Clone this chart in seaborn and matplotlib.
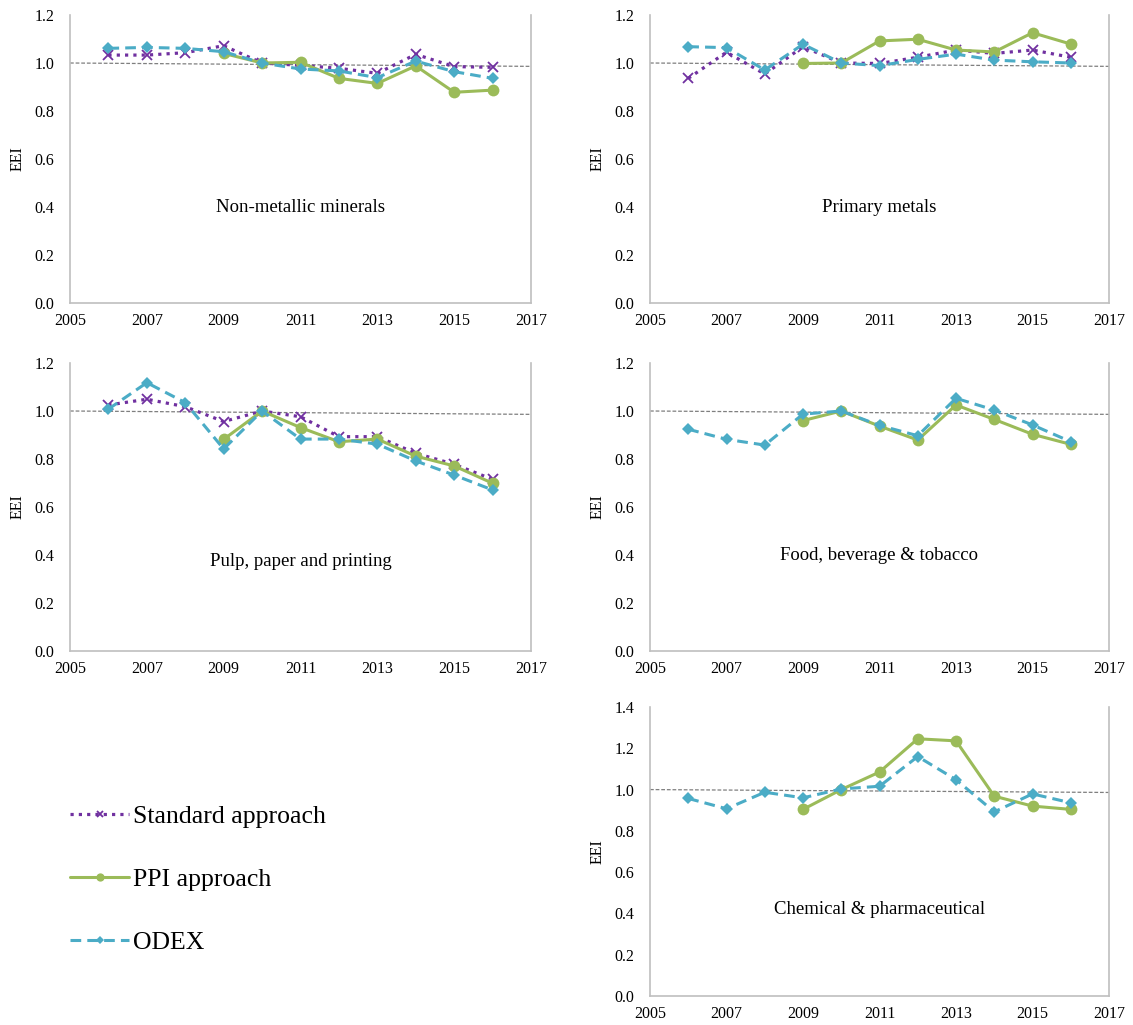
import numpy as np
import pandas as pd
import matplotlib
matplotlib.use("Agg")
import matplotlib.pyplot as plt
from matplotlib.lines import Line2D
import seaborn as sns

# ---- data -------------------------------------------------------------
years = [2006, 2007, 2008, 2009, 2010, 2011, 2012, 2013, 2014, 2015, 2016]
nan = np.nan

nonmet_std = [1.033, 1.033, 1.043, 1.072, 1.000, 0.990, 0.978, 0.957, 1.036, 0.985, 0.982]
nonmet_ppi = [nan, nan, nan, 1.040, 1.000, 1.003, 0.936, 0.915, 0.988, 0.878, 0.887]
nonmet_odex = [1.061, 1.065, 1.061, 1.047, 1.000, 0.975, 0.967, 0.939, 1.008, 0.964, 0.936]

metals_std = [0.936, 1.045, 0.954, 1.068, 1.000, 0.998, 1.024, 1.054, 1.040, 1.054, 1.024]
metals_ppi = [nan, nan, nan, 0.998, 1.000, 1.092, 1.099, 1.054, 1.046, 1.126, 1.079]
metals_odex = [1.068, 1.064, 0.971, 1.078, 1.000, 0.989, 1.015, 1.037, 1.012, 1.005, 1.000]

pulp_std = [1.025, 1.049, 1.018, 0.956, 1.000, 0.976, 0.893, 0.893, 0.824, 0.778, 0.715]
pulp_ppi = [nan, nan, nan, 0.882, 1.000, 0.931, 0.872, 0.883, 0.812, 0.771, 0.699]
pulp_odex = [1.008, 1.118, 1.035, 0.842, 1.000, 0.883, 0.883, 0.862, 0.792, 0.733, 0.671]

food_ppi = [nan, nan, nan, 0.960, 1.000, 0.937, 0.879, 1.025, 0.965, 0.903, 0.861]
food_odex = [0.924, 0.882, 0.858, 0.987, 1.000, 0.940, 0.897, 1.053, 1.004, 0.942, 0.872]

chem_ppi = [nan, nan, nan, 0.904, 1.000, 1.085, 1.246, 1.236, 0.968, 0.920, 0.904]
chem_odex = [0.957, 0.907, 0.987, 0.960, 1.003, 1.016, 1.160, 1.048, 0.892, 0.979, 0.936]

series_names = ["Standard approach", "PPI approach", "ODEX"]
panel_titles = ["Non-metallic minerals", "Primary metals", "Pulp, paper and printing",
                "Food, beverage & tobacco", "Chemical & pharmaceutical"]

# ---- styling ----------------------------------------------------------
sns.set_theme(style="white")
serif = ["Liberation Serif", "DejaVu Serif"]
plt.rcParams["font.family"] = serif
plt.rcParams["text.color"] = "black"
plt.rcParams["axes.labelcolor"] = "black"

styles = {
    "Standard approach": dict(color="#7030A0", linestyle=(0, (1, 1.6)), linewidth=2.3,
                              marker="x", markersize=7, markeredgewidth=1.3),
    "PPI approach": dict(color="#9BBB59", linestyle="-", linewidth=2.2,
                         marker="o", markersize=8.5, markeredgewidth=0),
    "ODEX": dict(color="#4BACC6", linestyle=(0, (3.5, 2)), linewidth=2.2,
                 marker="D", markersize=6.2, markeredgewidth=0),
}

W, H = 1133, 1025
fig = plt.figure(figsize=(W / 100, H / 100), dpi=100)


def add_axes(x0, x1, ytop, ybot):
    return fig.add_axes([x0 / W, (H - ybot) / H, (x1 - x0) / W, (ybot - ytop) / H])


panels = [
    (add_axes(70, 531, 15, 303), [nonmet_std, nonmet_ppi, nonmet_odex], 1.2, 0.33),
    (add_axes(650, 1109, 15, 303), [metals_std, metals_ppi, metals_odex], 1.2, 0.33),
    (add_axes(70, 531, 363, 651), [pulp_std, pulp_ppi, pulp_odex], 1.2, 0.31),
    (add_axes(650, 1109, 363, 651), [None, food_ppi, food_odex], 1.2, 0.333),
    (add_axes(650, 1109, 707, 996), [None, chem_ppi, chem_odex], 1.4, 0.30),
]

grey = "#BFBFBF"
for (ax, vals, ymax, ty), title in zip(panels, panel_titles):
    # reference level at 1.0
    ax.plot([2005, 2017], [1.0, 0.986], color="#7F7F7F", linewidth=0.9,
            linestyle=(0, (3, 1.5)), zorder=1)
    for name, v in zip(series_names, vals):
        if v is None:
            continue
        df = pd.DataFrame({"year": years, "EEI": v}).dropna()
        st = styles[name]
        sns.lineplot(data=df, x="year", y="EEI", ax=ax, color=st["color"],
                     linestyle=st["linestyle"], linewidth=st["linewidth"],
                     marker=st["marker"], markersize=st["markersize"],
                     markeredgewidth=st["markeredgewidth"],
                     markeredgecolor=st["color"], zorder=3)
    ax.set_xlim(2005, 2017)
    ax.set_ylim(0, ymax)
    ax.set_xticks(range(2005, 2018, 2))
    yt = np.arange(0, ymax + 0.01, 0.2)
    ax.set_yticks(yt)
    ax.set_yticklabels([f"{t:.1f}" for t in yt])
    ax.set_xlabel("")
    ax.set_ylabel("EEI", fontsize=11.5, color="black")
    ax.yaxis.set_label_coords(-0.097, 0.5)
    ax.tick_params(axis="both", labelsize=11.5, colors=grey, labelcolor="black",
                   length=4, width=1, direction="out")
    ax.tick_params(axis="y", pad=7.5)
    ax.tick_params(axis="x", pad=3.5)
    for side in ["left", "right", "bottom"]:
        ax.spines[side].set_visible(True)
        ax.spines[side].set_color(grey)
        ax.spines[side].set_linewidth(1.2)
    ax.spines["top"].set_visible(False)
    ax.text(0.5, ty, title, transform=ax.transAxes, ha="center", va="center",
            fontsize=13.5, color="black")
    ax.set_facecolor("white")

# ---- legend -----------------------------------------------------------
handles = []
for name in series_names:
    st = dict(styles[name])
    st["markersize"] = st["markersize"] * 0.7
    handles.append(Line2D([], [], **st))
leg = fig.legend(handles, series_names, loc="upper left",
                 bbox_to_anchor=(70 / W, (H - 805) / H), frameon=False,
                 prop={"family": serif, "size": 18.5}, handlelength=2.3,
                 handletextpad=0.15, labelspacing=1.55, borderpad=0,
                 borderaxespad=0)
for t in leg.get_texts():
    t.set_color("black")

fig.savefig("out.png", dpi=100, facecolor="white")
